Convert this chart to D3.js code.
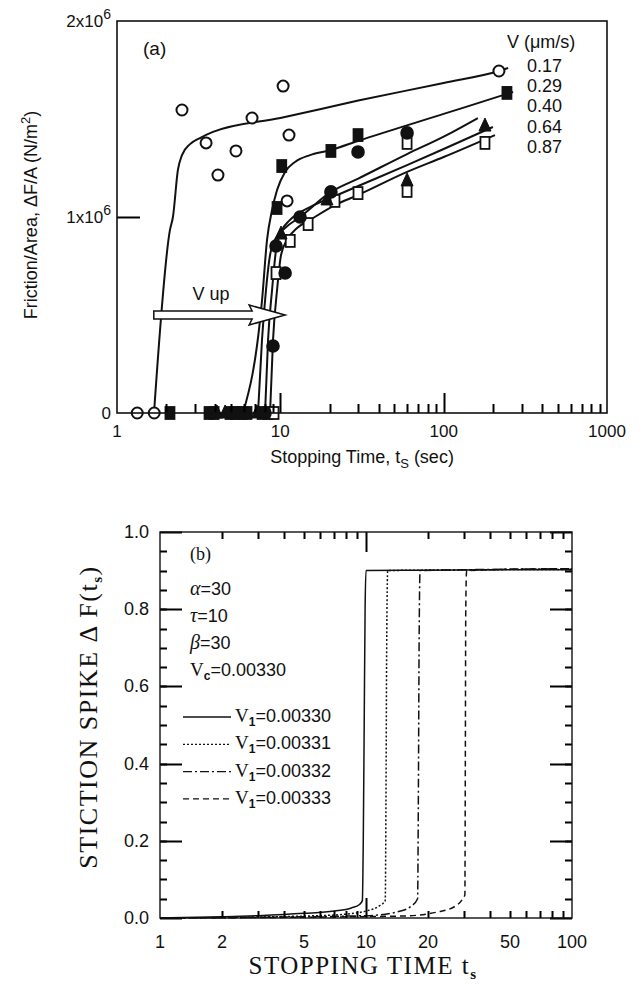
<!DOCTYPE html>
<html>
<head>
<meta charset="utf-8">
<script src="https://cdn.jsdelivr.net/npm/d3@7"></script>
<style>
body{margin:0;background:#fff;overflow:hidden;}
text{fill:#111;}
</style>
</head>
<body>
<div id="chart"></div>
<script>

/****** panel (a) data : [stopping time (s), friction/area (N/m2)] ******/
var speedsA = ["0.17", "0.29", "0.40", "0.64", "0.87"];

var pts017 = [[1.33,0],[1.69,0],[2.50,1.546e6],[3.51,1.378e6],[4.15,1.214e6],[5.35,1.337e6],
    [6.71,1.505e6],[10.4,1.668e6],[11.3,1.418e6],[11.0,1.082e6],[218,1.745e6]];
var pts029 = [[2.11,0],[3.66,0],[3.93,0],[4.92,0],[5.35,0],[5.83,0],[6.25,0],[7.73,0],[8.41,0],
    [9.55,1.046e6],[10.2,1.260e6],[20.4,1.337e6],[29.9,1.418e6],[244,1.633e6]];
var pts040 = [[8.06,0],[9.02,0.342e6],[9.41,0.852e6],[10.7,0.714e6],[13.2,1.0e6],[20.4,1.128e6],
    [29.9,1.332e6],[59.7,1.429e6]];
var pts064 = [[4.09,0],[4.59,0],[7.2,0],[10.1,0.913e6],[19.3,1.087e6],[59.7,1.184e6],[179,1.464e6]];
var pts087 = [[9.15,0],[9.41,0.714e6],[11.5,0.878e6],[14.8,0.964e6],[21.6,1.082e6],[29.9,1.122e6],
    [59.7,1.378e6],[59.7,1.133e6],[179,1.378e6]];

// fitted curves
var fit017 = [[1.685,0],[2.11,0.934e6],[2.20,1.0e6],[2.36,1.24e6],[2.50,1.316e6],[2.80,1.372e6],
    [3.22,1.403e6],[3.87,1.434e6],[10,1.505e6],[30,1.594e6],[100,1.684e6],[218,1.745e6],[248,1.760e6]];
var fit029 = [[5.91,0],[7.73,0.577e6],[8.29,0.883e6],[8.90,1.036e6],[9.55,1.138e6],[10.69,1.230e6],
    [12.31,1.281e6],[15.2,1.316e6],[20.4,1.342e6],[29.9,1.388e6],[100,1.526e6],[244,1.628e6],[266,1.638e6]];
var fit040 = [[7.30,0],[7.72,0.372e6],[8.17,0.628e6],[8.65,0.806e6],[9.41,0.893e6],[10.69,0.944e6],
    [13.2,1.0e6],[20.44,1.128e6],[30,1.196e6],[59.7,1.321e6],[100,1.410e6],[162,1.505e6]];
var fit064 = [[8.06,0],[8.41,0.372e6],[8.90,0.628e6],[9.41,0.832e6],[10.10,0.923e6],[11.47,0.985e6],
    [15.2,1.051e6],[21.63,1.107e6],[30,1.158e6],[59.7,1.265e6],[100,1.347e6],[200,1.459e6]];
var fit087 = [[8.65,0],[9.02,0.372e6],[9.55,0.628e6],[10.10,0.806e6],[10.99,0.883e6],[12.66,0.944e6],
    [15.2,0.985e6],[21.63,1.061e6],[29.9,1.112e6],[59.7,1.230e6],[100,1.306e6],[206,1.418e6]];

/****** panel (b) data : [stopping time, stiction spike] ******/
var legendB = ["0.00330", "0.00331", "0.00332", "0.00333"];
var paramsB = [["\u03B1", "=30"], ["\u03C4", "=10"], ["\u03B2", "=30"]];

var b330 = [[1,0],[2,0.003],[3,0.006],[5,0.012],[7,0.018],[8.5,0.026],[9.3,0.035],[9.6,0.045],
    [9.7,0.2],[9.8,0.5],[9.9,0.8],[10.0,0.9],[20,0.901],[50,0.902],[100,0.902]];
var b331 = [[1,0],[5,0.005],[8,0.01],[10,0.018],[11.5,0.03],[12.4,0.045],[12.5,0.3],[12.6,0.7],
    [12.75,0.9],[30,0.902],[100,0.903]];
var b332 = [[1,0],[10,0.006],[14,0.015],[16.5,0.03],[17.8,0.05],[17.95,0.3],[18.1,0.7],[18.3,0.9],
    [40,0.903],[100,0.905]];
var b333 = [[1,0],[15,0.005],[22,0.015],[27,0.03],[29.5,0.05],[30.2,0.06],[30.35,0.4],[30.5,0.8],
    [30.8,0.9],[60,0.904],[100,0.905]];

var sans = "'Liberation Sans', Arial, sans-serif";
var serif = "'Liberation Serif', 'Times New Roman', serif";

var svg = d3.select("#chart").append("svg")
    .attr("width", 639)
    .attr("height", 985)
    .style("display", "block");

function minors(lo, hi) {
    var out = [];
    for (var d = lo; d < hi; d *= 10)
        for (var k = 2; k <= 9; k++) out.push(k * d);
    return out;
}

/*************************************** panel (a) *************************************/
var xa = d3.scaleLog().domain([1, 1000]).range([117, 607]);
var ya = d3.scaleLinear().domain([0, 2e6]).range([413, 21]);
var gA = svg.append("g").style("font-family", sans);

gA.selectAll(".xl").data([1, 10, 100, 1000]).enter().append("text").attr("class", "xl")
    .attr("x", d => xa(d)).attr("y", 437).attr("text-anchor", "middle").attr("font-size", 17).text(d => d);

// y tick labels with exponents
[[0, "0", ""], [1e6, "1x10", "6"], [2e6, "2x10", "6"]].forEach(function (d) {
    var t = gA.append("text").attr("x", 111).attr("y", ya(d[0]) + 6)
        .attr("text-anchor", "end").attr("font-size", 17);
    t.append("tspan").text(d[1]);
    if (d[2]) t.append("tspan").attr("dy", -8).attr("font-size", 14).text(d[2]);
});

var lineA = d3.line().x(d => xa(d[0])).y(d => ya(d[1])).curve(d3.curveMonotoneX);
[fit017, fit029, fit040, fit064, fit087].forEach(function (f) {
    gA.append("path").attr("d", lineA(f)).attr("fill", "none")
        .attr("stroke", "#111").attr("stroke-width", 2);
});

// V up arrow
var ax0 = xa(1.68), ax1 = xa(10.7), ay = ya(0.5e6);
gA.append("path")
    .attr("d", "M" + ax0 + "," + (ay - 4) + "L" + (ax1 - 33) + "," + (ay - 4) + "L" + (ax1 - 36) + "," + (ay - 10)
        + "L" + ax1 + "," + ay + "L" + (ax1 - 36) + "," + (ay + 10) + "L" + (ax1 - 33) + "," + (ay + 4)
        + "L" + ax0 + "," + (ay + 4) + "Z")
    .attr("fill", "#fff").attr("stroke", "#111").attr("stroke-width", 1.5);
gA.append("text").attr("x", 211).attr("y", ay - 15).attr("text-anchor", "middle")
    .attr("font-size", 18).text("V up");

function markers(g, x, y, pts, type) {
    var s = g.selectAll(null).data(pts).enter();
    if (type === "oc" || type === "fc")
        s.append("circle").attr("cx", d => x(d[0])).attr("cy", d => y(d[1])).attr("r", type === "oc" ? 5.5 : 5.8)
            .attr("fill", type === "oc" ? "#fff" : "#111").attr("stroke", "#111").attr("stroke-width", 2);
    else if (type === "fs" || type === "os")
        s.append("rect").attr("x", d => x(d[0]) - 4.5).attr("y", d => y(d[1]) - 6).attr("width", 9).attr("height", 12)
            .attr("fill", type === "os" ? "#fff" : "#111").attr("stroke", "#111").attr("stroke-width", 1.8);
    else
        s.append("path").attr("d", d => "M" + x(d[0]) + "," + (y(d[1]) - 8) + "l6,13l-12,0z")
            .attr("fill", "#111").attr("stroke", "#111").attr("stroke-width", 1);
}
markers(gA, xa, ya, pts017, "oc");
markers(gA, xa, ya, pts029, "fs");
markers(gA, xa, ya, pts087, "os");
markers(gA, xa, ya, pts040, "fc");
markers(gA, xa, ya, pts064, "ft");

gA.append("text").attr("x", 143).attr("y", 55).attr("font-size", 19).text("(a)");
gA.append("text").attr("x", 507).attr("y", 48).attr("font-size", 18).text("V (\u03BCm/s)");
gA.selectAll(".spd").data(speedsA).enter().append("text").attr("class", "spd")
    .attr("x", 527).attr("y", (d, i) => 72 + i * 20.2).attr("font-size", 18).text(d => d);

var tA = gA.append("text").attr("x", 362).attr("y", 463).attr("text-anchor", "middle").attr("font-size", 18);
tA.append("tspan").text("Stopping Time, t");
tA.append("tspan").attr("dy", 5).attr("font-size", 13).text("S");
tA.append("tspan").attr("dy", -5).text(" (sec)");

var yA = gA.append("text").attr("transform", "translate(37,215) rotate(-90)")
    .attr("text-anchor", "middle").attr("font-size", 18);
yA.append("tspan").text("Friction/Area, \u0394F/A (N/m");
yA.append("tspan").attr("dy", -7).attr("font-size", 13).text("2");
yA.append("tspan").attr("dy", 7).text(")");

/*************************************** panel (b) *************************************/
var xb = d3.scaleLog().domain([1, 100]).range([160, 572]);
var yb = d3.scaleLinear().domain([0, 1]).range([918, 532]);
var gB = svg.append("g").style("font-family", sans);

var minorY = d3.range(1, 20).map(i => i * 0.05);
var majorY = [0, 0.2, 0.4, 0.6, 0.8, 1.0];

gB.selectAll(".yl").data(majorY).enter().append("text").attr("class", "yl")
    .attr("x", 149).attr("y", d => yb(d) + 6).attr("text-anchor", "end").attr("font-size", 18)
    .text(d3.format(".1f"));
gB.selectAll(".xl").data([1, 2, 5, 10, 20, 50, 100]).enter().append("text").attr("class", "xl")
    .attr("x", d => xb(d)).attr("y", 948).attr("text-anchor", "middle").attr("font-size", 18).text(d => d);

var lineB = d3.line().x(d => xb(d[0])).y(d => yb(d[1])).curve(d3.curveMonotoneX);
var dashes = [null, "2,2", "9,3,2,3", "6,4"];
[b330, b331, b332, b333].forEach(function (c, i) {
    gB.append("path").attr("d", lineB(c)).attr("fill", "none").attr("stroke", "#111")
        .attr("stroke-width", 1.5).attr("stroke-dasharray", dashes[i]);
});

gB.append("text").attr("x", 190).attr("y", 560).attr("font-size", 18).attr("font-family", serif).text("(b)");
paramsB.forEach(function (p, i) {
    var t = gB.append("text").attr("x", 190).attr("y", 595 + i * 27).attr("font-size", 18);
    t.append("tspan").attr("font-family", serif).attr("font-style", "italic").attr("font-size", 20).text(p[0]);
    t.append("tspan").text(p[1]);
});
var vc = gB.append("text").attr("x", 190).attr("y", 676).attr("font-size", 18);
vc.append("tspan").attr("font-family", serif).attr("font-size", 19).text("V");
vc.append("tspan").attr("dy", 4).attr("font-size", 12).attr("font-weight", "bold").text("c");
vc.append("tspan").attr("dy", -4).text("=0.00330");

legendB.forEach(function (v, i) {
    var yy = 722 + i * 27.3;
    gB.append("line").attr("x1", 183).attr("x2", 231).attr("y1", yy - 5).attr("y2", yy - 5)
        .attr("stroke", "#111").attr("stroke-width", 1.3).attr("stroke-dasharray", dashes[i]);
    var t = gB.append("text").attr("x", 235).attr("y", yy).attr("font-size", 18);
    t.append("tspan").attr("font-family", serif).attr("font-size", 19).text("V");
    t.append("tspan").attr("dy", 4).attr("font-size", 12).attr("font-weight", "bold").text("1");
    t.append("tspan").attr("dy", -4).text("=" + v);
});

var tB = gB.append("text").attr("x", 363).attr("y", 974).attr("text-anchor", "middle")
    .attr("font-size", 25).attr("font-family", serif).attr("letter-spacing", 1.5);
tB.append("tspan").text("STOPPING TIME t");
tB.append("tspan").attr("dy", 5).attr("font-size", 15).attr("font-weight", "bold").text("s");

var yB = gB.append("text").attr("transform", "translate(97,717) rotate(-90)").attr("text-anchor", "middle")
    .attr("font-size", 26).attr("font-family", serif).attr("letter-spacing", 1.5);
yB.append("tspan").text("STICTION SPIKE \u0394 F(t");
yB.append("tspan").attr("dy", 5).attr("font-size", 15).attr("font-weight", "bold").text("s");
yB.append("tspan").attr("dy", -5).text(")");

/*************************************** frames and ticks (drawn last, as filled rects) *************************************/
var gT = svg.append("g").attr("fill", "#000");

// vertical tick marks along a horizontal edge; len < 0 goes up
function xTickRects(scale, vals, y0, len, w) {
    gT.selectAll(null).data(vals).enter().append("rect")
        .attr("x", d => Math.round(scale(d)) - w / 2 + 0.5)
        .attr("y", len < 0 ? y0 + len : y0)
        .attr("width", w).attr("height", Math.abs(len));
}
// horizontal tick marks along a vertical edge; len < 0 goes left
function yTickRects(scale, vals, x0, len, w) {
    gT.selectAll(null).data(vals).enter().append("rect")
        .attr("x", len < 0 ? x0 + len : x0)
        .attr("y", d => Math.round(scale(d)) - w / 2 + 0.5)
        .attr("width", Math.abs(len)).attr("height", w);
}

xTickRects(xa, minors(1, 1000), 413, -9, 2);
xTickRects(xa, [10, 100], 413, -20, 2);
yTickRects(ya, [1e6], 117, 23, 2);
gT.append("rect").attr("x", 117).attr("y", 21).attr("width", 490).attr("height", 392)
    .attr("fill", "none").attr("stroke", "#111").attr("stroke-width", 1.6);

xTickRects(xb, minors(1, 100), 918, -7, 2);
xTickRects(xb, [10], 918, -20, 2);
xTickRects(xb, minors(1, 100), 532, 7, 2);
xTickRects(xb, [10], 532, 20, 2);
yTickRects(yb, minorY, 160, 7, 2);
yTickRects(yb, majorY, 160, 22, 2);
yTickRects(yb, minorY, 572, -7, 2);
yTickRects(yb, majorY, 572, -22, 2);
gT.append("rect").attr("x", 160).attr("y", 532).attr("width", 412).attr("height", 386)
    .attr("fill", "none").attr("stroke", "#111").attr("stroke-width", 1.4);

</script>
</body>
</html>
